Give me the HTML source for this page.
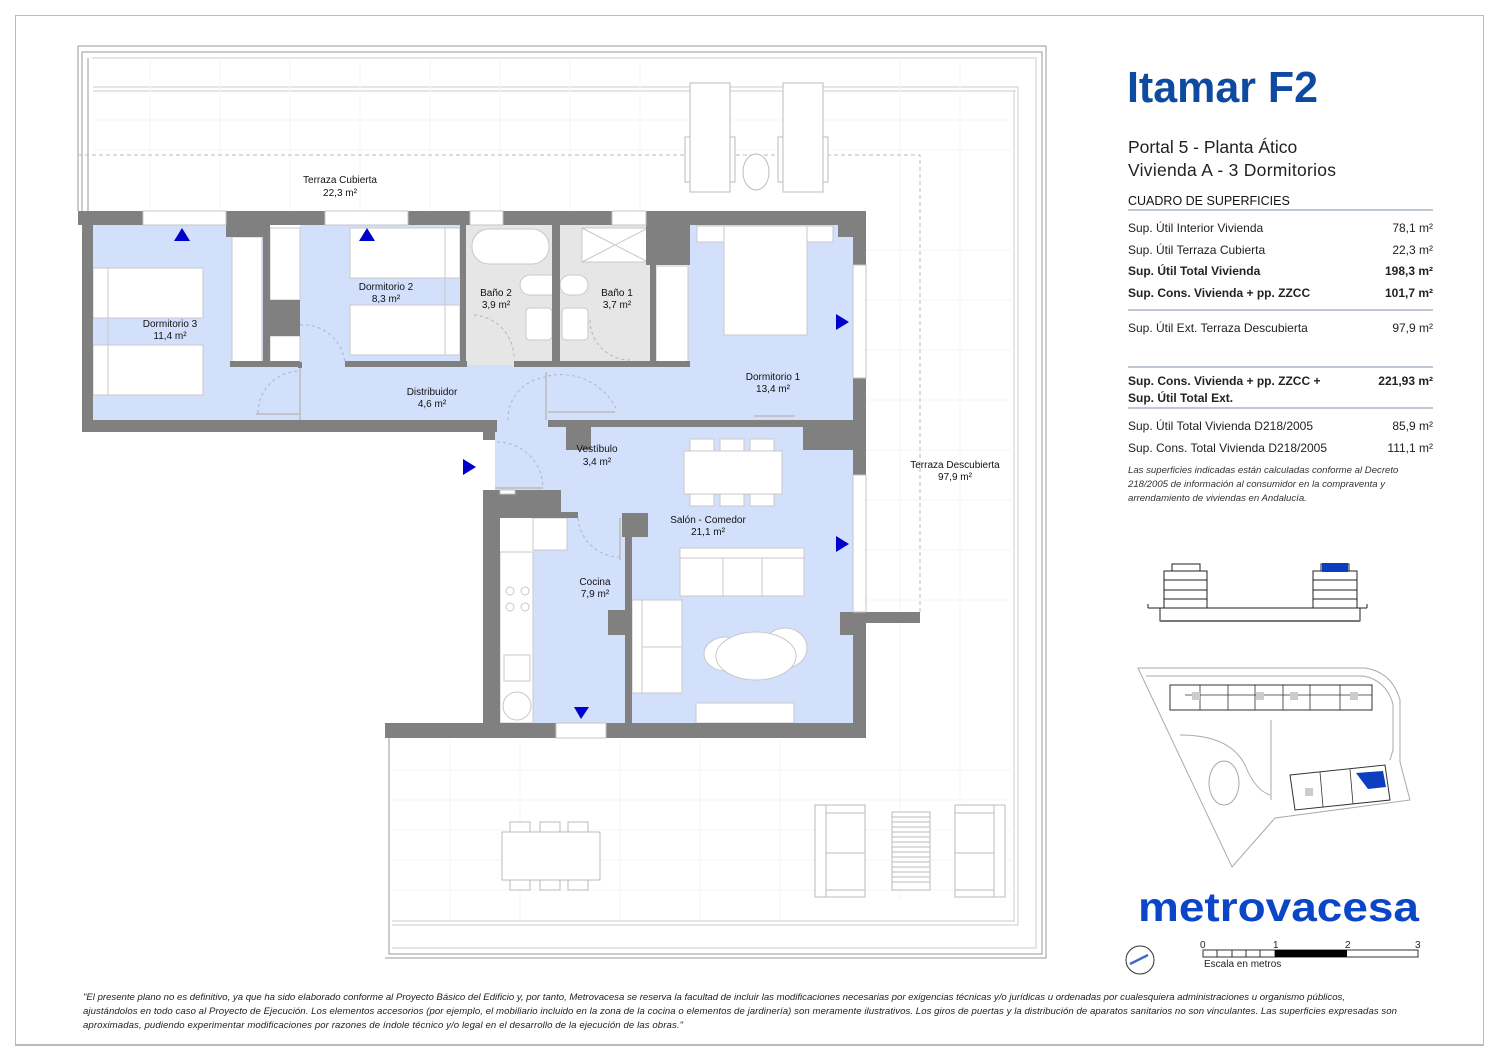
<!DOCTYPE html>
<html><head><meta charset="utf-8"><style>
html,body{margin:0;padding:0;background:#fff}
svg{display:block}
text{font-family:"Liberation Sans",sans-serif}
</style></head><body>
<svg width="1500" height="1061" viewBox="0 0 1500 1061" xmlns="http://www.w3.org/2000/svg">
<!-- page frame -->
<rect x="15.5" y="15.5" width="1468" height="1030" fill="none" stroke="#bbb" stroke-width="1"/>
<line x1="15" y1="1045" x2="1484" y2="1045" stroke="#bbb" stroke-width="2"/>

<!-- terrace outlines -->
<g fill="none" stroke="#999" stroke-width="1">
<path d="M78 46 H1046 V958 H385"/>
<path d="M82 52 H1042 V954 H389 V738"/>
<path d="M82 52 V211"/>
<path d="M88 58 V211"/>
<path d="M78 46 V211"/>
</g>
<g fill="none" stroke="#ccc" stroke-width="1">
<path d="M92 58 H1036 V948 H392"/>
<path d="M93 87 H1018"/><path d="M93 91 H1016"/>
<path d="M1018 87 V925"/><path d="M1014 91 V922"/>
<path d="M392 925 H1018"/><path d="M392 921 H1014"/>
</g>
<!-- faint grid -->
<g stroke="#f6f6f6" stroke-width="1">
<path d="M93 120H1014M93 150H1014M866 250H1014M866 300H1014M866 350H1014M866 400H1014M866 450H1014M866 500H1014M866 550H1014M866 600H1014M392 770H1014M392 800H1014M392 830H1014M392 860H1014M392 890H1014"/>
<path d="M150 58V210M220 58V210M290 58V210M360 58V210M430 58V210M500 58V210M570 58V210M640 58V210M900 58V900M960 58V900M450 740V920M520 740V920M620 740V920M700 740V920M780 740V920"/>
</g>
<!-- dashed terrace limits -->
<path d="M78 155 H920 V612" fill="none" stroke="#bbb" stroke-width="1" stroke-dasharray="4,3"/>

<!-- top sunbeds -->
<g fill="#fff" stroke="#bbb" stroke-width="1">
<rect x="690" y="83" width="40" height="109"/><rect x="783" y="83" width="40" height="109"/>
<rect x="685" y="137" width="5" height="45"/><rect x="730" y="137" width="5" height="45"/>
<rect x="778" y="137" width="5" height="45"/><rect x="823" y="137" width="5" height="45"/>
<ellipse cx="756" cy="172" rx="13" ry="18"/>
</g>

<!-- bottom terrace furniture -->
<g fill="#fff" stroke="#bbb" stroke-width="1">
<rect x="502" y="832" width="98" height="48"/>
<rect x="510" y="822" width="20" height="10"/><rect x="540" y="822" width="20" height="10"/><rect x="568" y="822" width="20" height="10"/>
<rect x="510" y="880" width="20" height="10"/><rect x="540" y="880" width="20" height="10"/><rect x="568" y="880" width="20" height="10"/>
<rect x="815" y="805" width="50" height="92"/><path d="M826 805V897M826 813H865M826 853H865M826 890H865"/>
<rect x="955" y="805" width="50" height="92"/><path d="M994 805V897M955 813H994M955 853H994M955 890H994"/>
<rect x="892" y="812" width="38" height="78"/>
<path d="M892 817H930M892 822H930M892 827H930M892 832H930M892 837H930M892 842H930M892 847H930M892 852H930M892 857H930M892 862H930M892 867H930M892 872H930M892 877H930M892 882H930"/>
</g>

<!-- floors -->
<g fill="#d3e0fb">
<rect x="93" y="225" width="170" height="197"/>
<rect x="263" y="362" width="430" height="60"/>
<rect x="300" y="225" width="162" height="140"/>
<rect x="688" y="225" width="165" height="197"/>
<rect x="495" y="420" width="135" height="75"/>
<rect x="533" y="427" width="320" height="100"/>
<rect x="630" y="427" width="223" height="296"/>
<rect x="533" y="518" width="92" height="205"/>
</g>
<g fill="#e6e6e6">
<rect x="466" y="225" width="86" height="140"/>
<rect x="560" y="225" width="90" height="140"/>
</g>

<!-- furniture interior -->
<g fill="#fff" stroke="#c8c8c8" stroke-width="1">
<rect x="93" y="268" width="110" height="50"/><rect x="93" y="345" width="110" height="50"/>
<path d="M108 268V395"/>
<rect x="232" y="237" width="30" height="125"/>
<rect x="270" y="228" width="30" height="72"/>
<rect x="270" y="336" width="30" height="26"/>
<rect x="350" y="228" width="110" height="50"/><rect x="350" y="305" width="110" height="50"/>
<path d="M445 228V355"/>
<rect x="472" y="229" width="77" height="35" rx="17"/>
<rect x="520" y="275" width="40" height="20" rx="10"/>
<rect x="526" y="308" width="26" height="32" rx="4"/>
<rect x="582" y="228" width="66" height="34"/>
<path d="M582 228L648 262M582 262L648 228"/>
<rect x="560" y="275" width="28" height="20" rx="10"/>
<rect x="562" y="308" width="26" height="32" rx="4"/>
<rect x="656" y="266" width="32" height="96"/>
<rect x="697" y="226" width="136" height="16"/>
<rect x="724" y="226" width="83" height="109"/>
<rect x="684" y="451" width="98" height="43"/>
<rect x="690" y="439" width="24" height="12"/><rect x="720" y="439" width="24" height="12"/><rect x="750" y="439" width="24" height="12"/>
<rect x="690" y="494" width="24" height="12"/><rect x="720" y="494" width="24" height="12"/><rect x="750" y="494" width="24" height="12"/>
<rect x="680" y="548" width="124" height="48"/><path d="M680 558H804M723 558V596M762 558V596"/>
<rect x="632" y="600" width="50" height="93"/><path d="M642 600V693M642 647H682"/>
<ellipse cx="726" cy="654" rx="22" ry="17"/><ellipse cx="785" cy="648" rx="22" ry="20"/>
<ellipse cx="756" cy="656" rx="40" ry="24"/>
<rect x="696" y="703" width="98" height="20"/>
<rect x="500" y="552" width="33" height="171"/>
<rect x="533" y="518" width="34" height="32"/>
<circle cx="510" cy="591" r="4"/><circle cx="525" cy="591" r="4"/><circle cx="510" cy="607" r="4"/><circle cx="525" cy="607" r="4"/>
<rect x="504" y="655" width="26" height="26"/>
<circle cx="517" cy="706" r="14"/>
</g>

<!-- door swings -->
<g fill="none" stroke="#a8b6cc" stroke-width="1" stroke-dasharray="3,3">
<path d="M258 413 A42 42 0 0 1 300 371"/>
<path d="M300 325 A42 42 0 0 1 345 364"/>
<path d="M474 315 A43 43 0 0 1 514 358"/>
<path d="M590 320 A40 40 0 0 0 630 360"/>
<path d="M508 420 A42 42 0 0 1 548 377"/>
<path d="M548 376 A62 62 0 0 1 617 410"/>
<path d="M497 442 A46 46 0 0 1 543 488"/>
<path d="M578 518 A42 42 0 0 0 620 557"/>
</g>
<g stroke="#bbb" stroke-width="1.5" fill="none">
<path d="M300 368V420M256 414H300M546 372V420M548 412H615M495 488H543M620 518V560M754 416H795"/>
</g>

<!-- walls -->
<g fill="#808080">
<rect x="78" y="211" width="65" height="14"/>
<rect x="226" y="211" width="99" height="14"/>
<rect x="408" y="211" width="62" height="14"/>
<rect x="503" y="211" width="109" height="14"/>
<rect x="646" y="211" width="220" height="14"/>
<rect x="82" y="211" width="11" height="221"/>
<rect x="82" y="420" width="415" height="12"/>
<rect x="483" y="420" width="12" height="20"/>
<rect x="226" y="225" width="38" height="12"/>
<rect x="263" y="225" width="7" height="137"/>
<rect x="263" y="300" width="37" height="36"/>
<rect x="230" y="361" width="70" height="6"/>
<rect x="298" y="362" width="4" height="6"/>
<rect x="345" y="361" width="122" height="6"/>
<rect x="460" y="225" width="6" height="142"/>
<rect x="514" y="361" width="176" height="6"/>
<rect x="552" y="225" width="8" height="142"/>
<rect x="646" y="225" width="44" height="40"/>
<rect x="650" y="225" width="6" height="142"/>
<rect x="838" y="225" width="28" height="12"/>
<rect x="853" y="225" width="13" height="40"/>
<rect x="853" y="378" width="13" height="97"/>
<rect x="548" y="420" width="305" height="7"/>
<rect x="803" y="420" width="50" height="30"/>
<rect x="566" y="427" width="25" height="23"/>
<rect x="483" y="490" width="78" height="28"/>
<rect x="483" y="490" width="17" height="248"/>
<rect x="561" y="512" width="17" height="6"/>
<rect x="622" y="513" width="26" height="24"/>
<rect x="625" y="513" width="7" height="210"/>
<rect x="608" y="610" width="24" height="25"/>
<rect x="840" y="612" width="80" height="11"/>
<rect x="853" y="612" width="13" height="126"/>
<rect x="840" y="612" width="13" height="23"/>
<rect x="385" y="723" width="171" height="15"/>
<rect x="606" y="723" width="260" height="15"/>
</g>
<g fill="#fff" stroke="#c4c4c4" stroke-width="1">
<rect x="143" y="211" width="83" height="14"/><rect x="325" y="211" width="83" height="14"/>
<rect x="470" y="211" width="33" height="14"/><rect x="612" y="211" width="34" height="14"/>
<rect x="853" y="265" width="13" height="113"/><rect x="853" y="475" width="13" height="137"/>
<rect x="556" y="723" width="50" height="15"/>
<rect x="500" y="490" width="15" height="4"/>
</g>

<g fill="#0000cc">
<path d="M182 228L174 241H190Z"/><path d="M367 228L359 241H375Z"/>
<path d="M836 314L849 322L836 330Z"/><path d="M836 536L849 544L836 552Z"/>
<path d="M463 459L476 467L463 475Z"/><path d="M574 707H589L581 719Z"/>
</g>

<g font-size="10" fill="#111" text-anchor="middle">
<text x="340" y="183">Terraza Cubierta</text><text x="340" y="196">22,3 m²</text>
<text x="170" y="327">Dormitorio 3</text><text x="170" y="339">11,4 m²</text>
<text x="386" y="290">Dormitorio 2</text><text x="386" y="302">8,3 m²</text>
<text x="496" y="296">Baño 2</text><text x="496" y="308">3,9 m²</text>
<text x="617" y="296">Baño 1</text><text x="617" y="308">3,7 m²</text>
<text x="432" y="395">Distribuidor</text><text x="432" y="407">4,6 m²</text>
<text x="773" y="380">Dormitorio 1</text><text x="773" y="392">13,4 m²</text>
<text x="597" y="452">Vestíbulo</text><text x="597" y="465">3,4 m²</text>
<text x="708" y="523">Salón - Comedor</text><text x="708" y="535">21,1 m²</text>
<text x="595" y="585">Cocina</text><text x="595" y="597">7,9 m²</text>
<text x="955" y="468">Terraza Descubierta</text><text x="955" y="480">97,9 m²</text>
</g>

<!-- right panel -->
<text x="1127" y="102" font-size="44" font-weight="bold" fill="#0d4aa0" textLength="191" lengthAdjust="spacingAndGlyphs">Itamar F2</text>
<text x="1128" y="153" font-size="17.5" fill="#222">Portal 5 - Planta Ático</text>
<text x="1128" y="176" font-size="17.5" fill="#222" textLength="208">Vivienda A - 3 Dormitorios</text>
<text x="1128" y="205" font-size="12.5" fill="#111">CUADRO DE SUPERFICIES</text>
<g stroke="#98a6bb" stroke-width="1.3">
<line x1="1128" y1="210" x2="1433" y2="210"/><line x1="1128" y1="310" x2="1433" y2="310"/>
<line x1="1128" y1="367" x2="1433" y2="367"/><line x1="1128" y1="408" x2="1433" y2="408"/>
</g>
<g font-size="12" fill="#222">
<text x="1128" y="232">Sup. Útil Interior Vivienda</text><text x="1433" y="232" text-anchor="end">78,1 m²</text>
<text x="1128" y="254">Sup. Útil Terraza Cubierta</text><text x="1433" y="254" text-anchor="end">22,3 m²</text>
<text x="1128" y="275" font-weight="bold">Sup. Útil Total Vivienda</text><text x="1433" y="275" text-anchor="end" font-weight="bold">198,3 m²</text>
<text x="1128" y="297" font-weight="bold">Sup. Cons. Vivienda + pp. ZZCC</text><text x="1433" y="297" text-anchor="end" font-weight="bold">101,7 m²</text>
<text x="1128" y="332">Sup. Útil Ext. Terraza Descubierta</text><text x="1433" y="332" text-anchor="end">97,9 m²</text>
<text x="1128" y="385" font-weight="bold">Sup. Cons. Vivienda + pp. ZZCC +</text><text x="1433" y="385" text-anchor="end" font-weight="bold">221,93 m²</text>
<text x="1128" y="402" font-weight="bold">Sup. Útil Total Ext.</text>
<text x="1128" y="430">Sup. Útil Total Vivienda D218/2005</text><text x="1433" y="430" text-anchor="end">85,9 m²</text>
<text x="1128" y="452">Sup. Cons. Total Vivienda D218/2005</text><text x="1433" y="452" text-anchor="end">111,1 m²</text>
</g>
<g font-size="9.6" font-style="italic" fill="#333">
<text x="1128" y="473">Las superficies indicadas están calculadas conforme al Decreto</text>
<text x="1128" y="487">218/2005 de información al consumidor en la compraventa y</text>
<text x="1128" y="501">arrendamiento de viviendas en Andalucía.</text>
</g>

<!-- elevation -->
<g fill="none" stroke="#222" stroke-width="1">
<path d="M1148 608H1367M1148 604V608M1367 604V608"/>
<rect x="1160" y="608" width="200" height="13"/>
<path d="M1160 621H1360" stroke="#777" stroke-width="2"/>
<path d="M1164 608V571H1207V608M1164 599H1207M1164 590H1207M1164 580H1207M1172 571V564H1200V571"/>
<path d="M1313 608V571H1357V608M1313 599H1357M1313 590H1357M1313 580H1357M1321 571V564H1349V571"/>
</g>
<rect x="1322" y="563" width="26" height="9" fill="#0b3fc0"/>

<!-- site plan -->
<g fill="none" stroke="#aaa" stroke-width="1">
<path d="M1138 668H1365Q1392 672 1400 700V762L1410 800L1275 818L1232 867L1138 668Z"/>
<path d="M1146 676H1363Q1386 680 1393 704V750L1390 760"/>
<path d="M1180 735Q1230 735 1245 765Q1255 790 1270 795"/>
<path d="M1271 720V800"/>
<ellipse cx="1224" cy="783" rx="15" ry="22"/>
</g>
<g fill="#fff" stroke="#333" stroke-width="1">
<path d="M1170 685H1372V710H1170Z"/>
<path d="M1290 775L1385 765L1390 800L1295 810Z"/>
</g>
<g fill="none" stroke="#333" stroke-width="0.8">
<path d="M1200 685V710M1228 685V710M1255 685V710M1283 685V710M1310 685V710M1340 685V710M1185 695H1372M1320 772L1323 807M1350 769L1353 804"/>
</g>
<g fill="#ccc"><rect x="1192" y="692" width="8" height="8"/><rect x="1256" y="692" width="8" height="8"/><rect x="1290" y="692" width="8" height="8"/><rect x="1350" y="692" width="8" height="8"/><rect x="1305" y="788" width="8" height="8"/></g>
<path d="M1356 773L1383 771L1386 787L1368 789Z" fill="#0b3fc0"/>

<!-- logo -->
<text x="1138" y="921" font-size="41" font-weight="bold" fill="#0b45c8" textLength="281" lengthAdjust="spacingAndGlyphs">metrovacesa</text>

<!-- scale bar -->
<g fill="none" stroke="#333" stroke-width="1">
<rect x="1203" y="950" width="215" height="7"/>
<path d="M1217 950V957M1232 950V957M1246 950V957M1260 950V957M1275 950V957"/>
</g>
<rect x="1275" y="950" width="72" height="7" fill="#000"/>
<g font-size="10" fill="#222">
<text x="1200" y="948">0</text><text x="1273" y="948">1</text><text x="1345" y="948">2</text><text x="1415" y="948">3</text>
<text x="1204" y="967">Escala en metros</text>
</g>
<circle cx="1140" cy="960" r="14" fill="none" stroke="#333"/>
<path d="M1130 964L1148 955" stroke="#4466cc" stroke-width="2.5"/>

<!-- footer -->
<g font-size="9.6" font-style="italic" fill="#222">
<text x="83" y="1000" textLength="1262">"El presente plano no es definitivo, ya que ha sido elaborado conforme al Proyecto Básico del Edificio y, por tanto, Metrovacesa se reserva la facultad de incluir las modificaciones necesarias por exigencias técnicas y/o jurídicas u ordenadas por cualesquiera administraciones u organismo públicos,</text>
<text x="83" y="1014" textLength="1314">ajustándolos en todo caso al Proyecto de Ejecución. Los elementos accesorios (por ejemplo, el mobiliario incluido en la zona de la cocina o elementos de jardinería) son meramente ilustrativos. Los giros de puertas y la distribución de aparatos sanitarios no son vinculantes. Las superficies expresadas son</text>
<text x="83" y="1028" textLength="600">aproximadas, pudiendo experimentar modificaciones por razones de índole técnico y/o legal en el desarrollo de la ejecución de las obras."</text>
</g>
</svg>
</body></html>
